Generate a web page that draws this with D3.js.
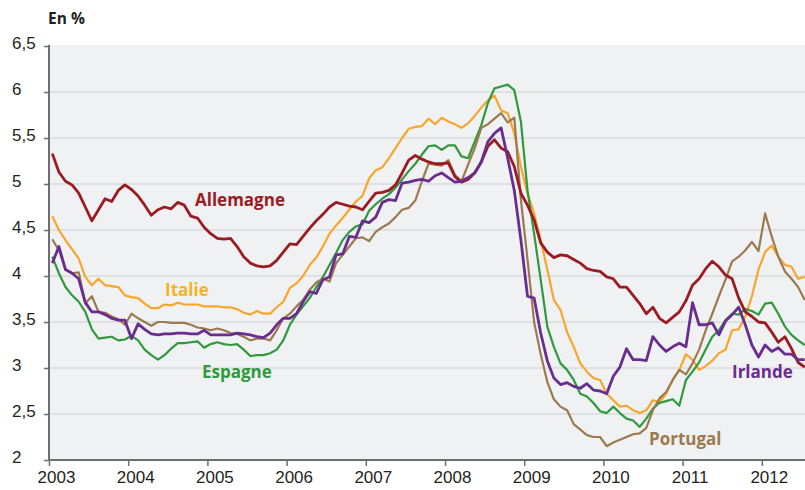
<!DOCTYPE html>
<html>
<head>
<meta charset="utf-8">
<script src="https://cdn.jsdelivr.net/npm/d3@7"></script>
<style>
  body { margin: 0; background: #fff; }
  svg { display: block; font-family: "Open Sans", "DejaVu Sans", sans-serif; }
</style>
</head>
<body>
<svg id="vis_svg"></svg>
<script>
// Monthly yields, Jan 2003 .. Jul 2012
const startYear = 2003;
const yearTicks = [2003, 2004, 2005, 2006, 2007, 2008, 2009, 2010, 2011, 2012];
const yTicks = [2, 2.5, 3, 3.5, 4, 4.5, 5, 5.5, 6, 6.5];

const allemagne = [
  5.33, 5.13, 5.03, 4.99, 4.90, 4.75, 4.60, 4.72, 4.84, 4.81, 4.93, 4.99,
  4.94, 4.87, 4.77, 4.66, 4.72, 4.75, 4.73, 4.80, 4.77, 4.65, 4.63, 4.53,
  4.46, 4.41, 4.40, 4.41, 4.32, 4.21, 4.14, 4.11, 4.10, 4.11, 4.17, 4.26,
  4.35, 4.34, 4.43, 4.52, 4.60, 4.67, 4.75, 4.80, 4.78, 4.76, 4.75, 4.72,
  4.81, 4.90, 4.91, 4.93, 4.99, 5.12, 5.26, 5.31, 5.27, 5.24, 5.22, 5.22,
  5.23, 5.08, 5.02, 5.05, 5.12, 5.24, 5.41, 5.48, 5.39, 5.35, 5.19, 4.90,
  4.77, 4.61, 4.36, 4.26, 4.20, 4.23, 4.22, 4.18, 4.14, 4.08, 4.06, 4.05,
  3.99, 3.97, 3.88, 3.88, 3.79, 3.70, 3.59, 3.66, 3.54, 3.49, 3.55, 3.61,
  3.73, 3.90, 3.97, 4.08, 4.16, 4.10, 4.01, 3.97, 3.76, 3.61, 3.56, 3.50,
  3.49, 3.39, 3.28, 3.34, 3.21, 3.06, 3.01
];
const italie = [
  4.65, 4.50, 4.39, 4.29, 4.19, 3.99, 3.90, 3.97, 3.90, 3.89, 3.88, 3.79,
  3.77, 3.76, 3.70, 3.65, 3.65, 3.69, 3.68, 3.71, 3.69, 3.69, 3.69, 3.67,
  3.67, 3.67, 3.66, 3.66, 3.64, 3.60, 3.58, 3.62, 3.59, 3.59, 3.66, 3.72,
  3.87, 3.92, 4.00, 4.12, 4.20, 4.32, 4.46, 4.55, 4.63, 4.72, 4.81, 4.87,
  5.06, 5.15, 5.18, 5.28, 5.39, 5.50, 5.60, 5.62, 5.63, 5.71, 5.65, 5.72,
  5.68, 5.65, 5.61, 5.66, 5.74, 5.83, 5.91, 5.96, 5.80, 5.77, 5.55, 5.19,
  4.90, 4.68, 4.39, 4.07, 3.74, 3.63, 3.39, 3.23, 3.05, 2.96, 2.89, 2.87,
  2.72, 2.65, 2.58, 2.59, 2.54, 2.51, 2.54, 2.65, 2.63, 2.72, 2.87, 2.98,
  3.15, 3.09, 2.98, 3.02, 3.08, 3.16, 3.20, 3.41, 3.42, 3.56, 3.78, 4.07,
  4.26, 4.33, 4.21, 4.12, 4.10, 3.97, 3.99
];
const espagne = [
  4.21, 4.03, 3.88, 3.79, 3.72, 3.61, 3.42, 3.32, 3.33, 3.34, 3.30, 3.31,
  3.35, 3.30, 3.20, 3.14, 3.09, 3.14, 3.21, 3.27, 3.27, 3.28, 3.29, 3.22,
  3.26, 3.28, 3.26, 3.25, 3.26, 3.20, 3.13, 3.14, 3.14, 3.16, 3.20, 3.30,
  3.47, 3.58, 3.67, 3.76, 3.88, 3.99, 4.12, 4.25, 4.39, 4.48, 4.54, 4.56,
  4.71, 4.78, 4.84, 4.89, 4.96, 5.05, 5.14, 5.22, 5.32, 5.41, 5.42, 5.37,
  5.42, 5.42, 5.30, 5.28, 5.46, 5.64, 5.88, 6.04, 6.06, 6.08, 6.02, 5.68,
  4.93, 4.46, 3.96, 3.45, 3.23, 3.05, 2.98, 2.87, 2.72, 2.69, 2.62, 2.53,
  2.51, 2.58, 2.51, 2.45, 2.43, 2.36, 2.45, 2.56, 2.62, 2.64, 2.66, 2.59,
  2.87, 2.96, 3.06, 3.20, 3.34, 3.41, 3.52, 3.59, 3.58, 3.64, 3.62, 3.58,
  3.70, 3.71, 3.59, 3.45, 3.36, 3.30, 3.25
];
const irlande = [
  4.14, 4.32, 4.07, 4.03, 3.97, 3.71, 3.61, 3.61, 3.58, 3.54, 3.52, 3.52,
  3.32, 3.48, 3.42, 3.37, 3.36, 3.37, 3.37, 3.38, 3.38, 3.37, 3.37, 3.41,
  3.36, 3.36, 3.36, 3.36, 3.38, 3.37, 3.36, 3.34, 3.33, 3.38, 3.47, 3.54,
  3.54, 3.59, 3.72, 3.83, 3.81, 3.96, 3.99, 4.23, 4.24, 4.43, 4.42, 4.60,
  4.58, 4.64, 4.80, 4.83, 4.82, 5.01, 5.02, 5.04, 5.05, 5.03, 5.09, 5.12,
  5.07, 5.02, 5.03, 5.07, 5.12, 5.24, 5.46, 5.55, 5.61, 5.28, 4.93, 4.39,
  3.78, 3.76, 3.38, 3.08, 2.89, 2.82, 2.84, 2.80, 2.78, 2.83, 2.76, 2.75,
  2.72, 2.91, 3.01, 3.21, 3.09, 3.09, 3.08, 3.34, 3.25, 3.18, 3.23, 3.27,
  3.23, 3.71, 3.47, 3.47, 3.49, 3.36, 3.51, 3.58, 3.66, 3.47, 3.25, 3.12,
  3.25, 3.18, 3.22, 3.15, 3.15, 3.09, 3.09
];
const portugal = [
  4.40, 4.28, 4.07, 4.03, 4.04, 3.70, 3.78, 3.61, 3.60, 3.56, 3.53, 3.47,
  3.59, 3.54, 3.50, 3.46, 3.50, 3.50, 3.49, 3.49, 3.49, 3.47, 3.44, 3.43,
  3.41, 3.43, 3.41, 3.38, 3.37, 3.34, 3.30, 3.32, 3.32, 3.30, 3.41, 3.54,
  3.59, 3.67, 3.74, 3.85, 3.93, 3.97, 3.94, 4.14, 4.23, 4.32, 4.41, 4.42,
  4.38, 4.48, 4.53, 4.57, 4.64, 4.72, 4.74, 4.82, 5.03, 5.22, 5.21, 5.20,
  5.26, 5.10, 5.03, 5.21, 5.39, 5.61, 5.65, 5.71, 5.77, 5.67, 5.72, 4.83,
  4.18, 3.50, 3.15, 2.85, 2.66, 2.58, 2.54, 2.39, 2.33, 2.27, 2.25, 2.25,
  2.15, 2.19, 2.22, 2.25, 2.28, 2.29, 2.35, 2.54, 2.67, 2.74, 2.87, 2.98,
  2.93, 3.05, 3.20, 3.41, 3.59, 3.78, 3.96, 4.16, 4.21, 4.28, 4.37, 4.27,
  4.68, 4.43, 4.21, 4.05, 3.97, 3.88, 3.74
];

// draw order: first drawn is at the back
const series = [
  { name: 'Italie',    values: italie,    color: '#f7a62b', width: 2.2, label: [165, 296], labelColor: '#f6b322' },
  { name: 'Espagne',   values: espagne,   color: '#2f993d', width: 2.2, label: [202, 378], labelColor: '#2f993d' },
  { name: 'Portugal',  values: portugal,  color: '#9c7a50', width: 2.2, label: [649, 445], labelColor: '#9c7a50' },
  { name: 'Allemagne', values: allemagne, color: '#9a1b21', width: 2.8, label: [195, 206], labelColor: '#9a1b21' },
  { name: 'Irlande',   values: irlande,   color: '#6a2d8f', width: 2.8, label: [732, 378], labelColor: '#6a2d8f' }
];

let config = { width: 805, height: 490, left: 49, right: 805, top: 45, bottom: 460 };

let svg = d3.select('#vis_svg')
    .attr('width', config.width)
    .attr('height', config.height);

let x = d3.scaleLinear()
    .domain([2003, 2013])
    .range([config.left, config.left + 79.2 * 10]);
let y = d3.scaleLinear()
    .domain([2, 6.5])
    .range([config.bottom, 46]);

// plot background
svg.append('rect')
    .attr('x', config.left)
    .attr('y', config.top)
    .attr('width', config.right - config.left)
    .attr('height', config.bottom - config.top)
    .style('fill', '#f0f1f3');

// gridlines
svg.append('g')
    .selectAll('line')
    .data(yTicks.filter(d => d > 2 && d < 6.5))
    .join('line')
    .attr('x1', config.left)
    .attr('x2', config.right)
    .attr('y1', d => y(d))
    .attr('y2', d => y(d))
    .style('stroke', '#d9dadd')
    .style('stroke-width', 1.5);

// lines
svg.append('clipPath')
    .attr('id', 'plot_clip')
    .append('rect')
    .attr('x', config.left)
    .attr('y', config.top)
    .attr('width', config.right - config.left)
    .attr('height', config.bottom - config.top);

let line = d3.line()
    .x((d, i) => x(startYear + (i + 0.5) / 12))
    .y(d => y(d));

let linesG = svg.append('g').attr('clip-path', 'url(#plot_clip)');
series.forEach(s => {
    linesG.append('path')
        .datum(s.values)
        .attr('d', line)
        .style('fill', 'none')
        .style('stroke', s.color)
        .style('stroke-width', s.width)
        .style('stroke-linejoin', 'round');
});

// axes
let xAxis = svg.append('g')
    .attr('transform', translate(0, config.bottom))
    .call(d3.axisBottom(x).tickValues(yearTicks).tickFormat(d3.format('d')).tickSize(6).tickSizeOuter(0));
xAxis.select('.domain').remove();
xAxis.selectAll('.tick line').style('stroke', '#6d6e71').style('stroke-width', 1.5);
xAxis.selectAll('.tick text')
    .attr('x', 7)
    .attr('y', 11)
    .style('font-size', '17px')
    .style('fill', '#231f20');

let yAxis = svg.append('g')
    .attr('transform', translate(config.left, 0))
    .call(d3.axisLeft(y).tickValues(yTicks).tickFormat(d => String(d).replace('.', ',')).tickSize(5));
yAxis.select('.domain').remove();
yAxis.selectAll('.tick line').style('stroke', '#6d6e71').style('stroke-width', 1.5);
yAxis.selectAll('.tick text')
    .attr('x', 12 - config.left)
    .attr('dy', null)
    .attr('y', 2)
    .style('text-anchor', 'start')
    .style('font-size', '17px')
    .style('fill', '#231f20');

// axis lines
svg.append('line')
    .attr('x1', config.left).attr('x2', config.right)
    .attr('y1', config.bottom).attr('y2', config.bottom)
    .style('stroke', '#6d6e71').style('stroke-width', 2);
svg.append('line')
    .attr('x1', config.left).attr('x2', config.left)
    .attr('y1', config.top).attr('y2', config.bottom + 1)
    .style('stroke', '#6d6e71').style('stroke-width', 2);

// unit label
svg.append('text')
    .attr('x', 48)
    .attr('y', 24)
    .style('font-size', '15.5px')
    .style('font-weight', 'bold')
    .style('fill', '#231f20')
    .text('En %');

// series labels
svg.append('g')
    .selectAll('text')
    .data(series)
    .join('text')
    .attr('x', d => d.label[0])
    .attr('y', d => d.label[1])
    .style('font-size', '17px')
    .style('font-weight', 'bold')
    .style('fill', d => d.labelColor)
    .text(d => d.name);

function translate(x, y) {
    return 'translate(' + x + ',' + y + ')';
}
</script>
</body>
</html>
